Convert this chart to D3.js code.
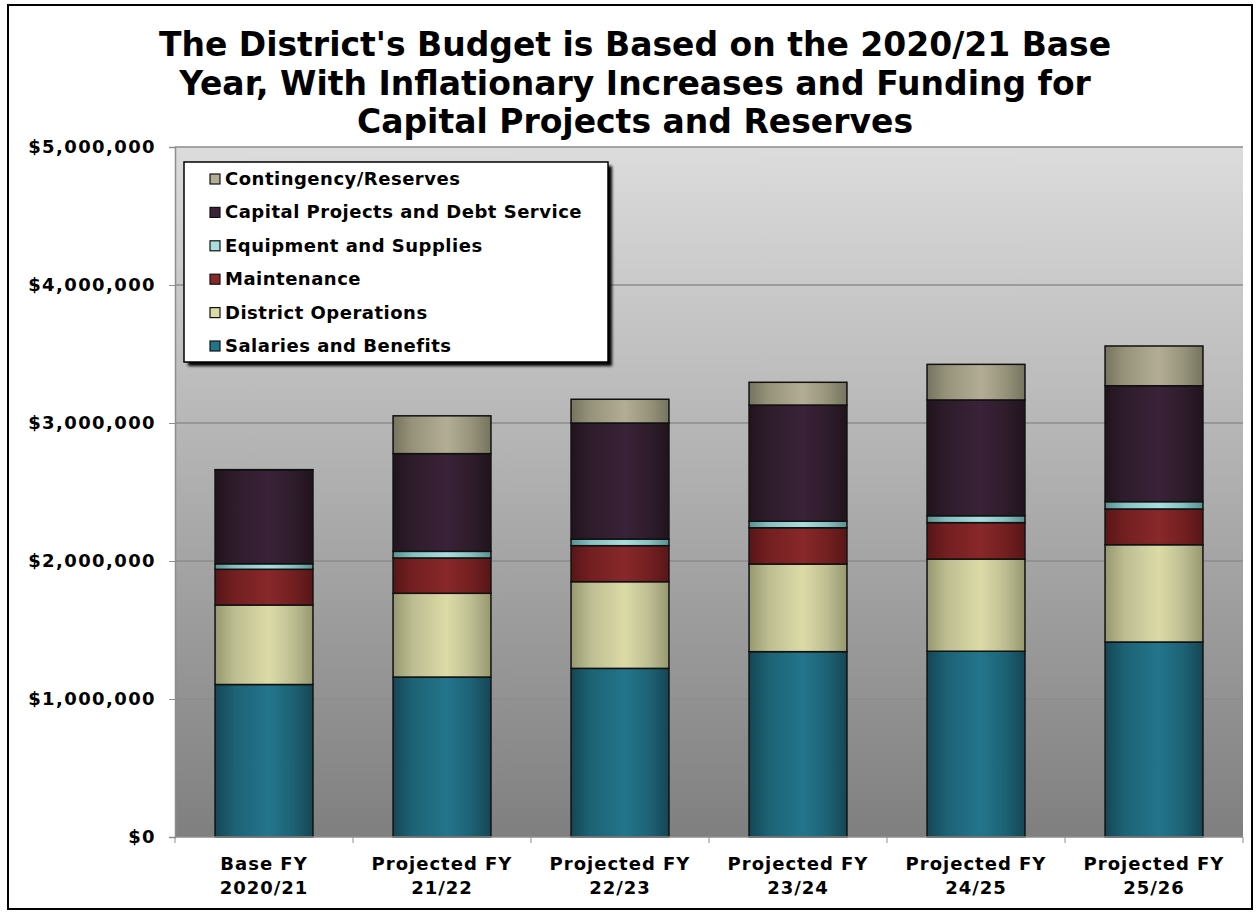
<!DOCTYPE html>
<html>
<head>
<meta charset="utf-8">
<script src="https://cdn.jsdelivr.net/npm/d3@7"></script>
<style>
  body { margin: 0; background: #fff; }
  text { font-family: "DejaVu Sans", Verdana, sans-serif; font-weight: bold; }
</style>
</head>
<body>
<div id="chart"></div>
<script>
"use strict";

// categories (two-line labels)
const categories = ["Base FY|2020/21", "Projected FY|21/22", "Projected FY|22/23",
                    "Projected FY|23/24", "Projected FY|24/25", "Projected FY|25/26"];

// series values, bottom to top
const salaries    = [1105000, 1159000, 1222000, 1343000, 1346000, 1413000];
const districtOps = [ 576000,  607000,  628000,  635000,  668000,  705000];
const maintenance = [ 259000,  256000,  261000,  263000,  264000,  259000];
const equipment   = [  40000,   48000,   48000,   47000,   50000,   53000];
const capital     = [ 679000,  708000,  841000,  842000,  839000,  840000];
const contingency = [   3000,  274000,  172000,  165000,  258000,  288000];

const seriesNames = ["Salaries and Benefits", "District Operations", "Maintenance",
                     "Equipment and Supplies", "Capital Projects and Debt Service", "Contingency/Reserves"];
const yTicks = [0, 1000000, 2000000, 3000000, 4000000, 5000000];

// colour per series: [edge, mid, light]
const colours = [
  ["#154654", "#1d6275", "#23758c"],
  ["#989870", "#bdbd92", "#dcdba7"],
  ["#581617", "#731f21", "#88282a"],
  ["#5a9090", "#86c0c0", "#a9dede"],
  ["#21141e", "#2e1c2b", "#3a2238"],
  ["#76745f", "#97937b", "#b3ad95"]
];

const msm = { width: 1259, height: 912, left: 175, right: 1243, top: 147, bottom: 837 };

const svg = d3.select("#chart").append("svg")
  .attr("width", msm.width)
  .attr("height", msm.height);

const defs = svg.append("defs");

// plot background gradient
const bg = defs.append("linearGradient").attr("id", "bg")
  .attr("x1", 0).attr("y1", 0).attr("x2", 0).attr("y2", 1);
bg.append("stop").attr("offset", "0%").attr("stop-color", "#dcdcdc");
bg.append("stop").attr("offset", "100%").attr("stop-color", "#7f7f7f");

// bar gradients (cylinder look)
colours.forEach((c, i) => {
  const g = defs.append("linearGradient").attr("id", "g" + i)
    .attr("x1", 0).attr("y1", 0).attr("x2", 1).attr("y2", 0);
  [[0, c[0]], [0.2, c[1]], [0.55, c[2]], [0.8, c[1]], [1, c[0]]].forEach(s => {
    g.append("stop").attr("offset", s[0]).attr("stop-color", s[1]);
  });
});

const shadow = defs.append("filter").attr("id", "shadow")
  .attr("x", "-5%").attr("y", "-5%").attr("width", "115%").attr("height", "115%");
shadow.append("feGaussianBlur").attr("stdDeviation", 1.5);

// outer frame
svg.append("rect")
  .attr("x", 8).attr("y", 5).attr("width", 1244).attr("height", 904)
  .attr("fill", "#fff").attr("stroke", "#000").attr("stroke-width", 2);

// title
const titleLines = ["The District's Budget is Based on the 2020/21 Base",
                    "Year, With Inflationary Increases and Funding for",
                    "Capital Projects and Reserves"];
svg.append("text")
  .attr("x", 635).attr("y", 56)
  .attr("text-anchor", "middle")
  .style("font-size", "33px")
  .selectAll("tspan").data(titleLines).enter().append("tspan")
  .attr("x", 635).attr("dy", (d, i) => i === 0 ? 0 : 38.5)
  .text(d => d);

// scales
const xScale = d3.scaleBand()
  .domain(categories)
  .range([msm.left, msm.right])
  .paddingInner(0.45)
  .paddingOuter(0.225);

const yScale = d3.scaleLinear()
  .domain([0, 5000000])
  .range([msm.bottom, msm.top]);

// plot area
svg.append("rect")
  .attr("x", msm.left).attr("y", msm.top)
  .attr("width", msm.right - msm.left).attr("height", msm.bottom - msm.top)
  .attr("fill", "url(#bg)");

// gridlines
svg.append("g").selectAll("line").data(yTicks.slice(1)).enter().append("line")
  .attr("x1", msm.left).attr("x2", msm.right)
  .attr("y1", d => yScale(d)).attr("y2", d => yScale(d))
  .attr("stroke", "#8c8c8c").attr("stroke-width", 1.5);

// y axis
const yAxis = d3.axisLeft(yScale)
  .tickValues(yTicks)
  .tickSize(6)
  .tickFormat(d => "$" + d3.format(",")(d));
const yG = svg.append("g")
  .attr("transform", "translate(" + msm.left + ",0)")
  .call(yAxis);
yG.select(".domain").attr("stroke", "#8c8c8c").attr("stroke-width", 1.5);
yG.selectAll(".tick line").attr("stroke", "#8c8c8c");
yG.selectAll(".tick text")
  .attr("x", -19)
  .attr("fill", "#000")
  .style("font-size", "18px")
  .style("letter-spacing", "1.4px")
  .style("font-family", "DejaVu Sans, Verdana, sans-serif")
  .style("font-weight", "bold");

// stacked data
const table = categories.map((c, i) => ({
  cat: c,
  s0: salaries[i], s1: districtOps[i], s2: maintenance[i],
  s3: equipment[i], s4: capital[i], s5: contingency[i]
}));
const stack = d3.stack().keys(["s0", "s1", "s2", "s3", "s4", "s5"]);
const stacked = stack(table);

const layers = svg.append("g").selectAll("g")
  .data(stacked).enter().append("g")
  .attr("fill", (d, i) => "url(#g" + i + ")");

layers.selectAll("rect")
  .data(d => d).enter().append("rect")
  .attr("x", d => xScale(d.data.cat))
  .attr("width", xScale.bandwidth())
  .attr("y", d => yScale(d[1]))
  .attr("height", d => yScale(d[0]) - yScale(d[1]))
  .attr("stroke", "#111")
  .attr("stroke-width", 1.5);

// x axis
const step = xScale.step();
const gap = (step - xScale.bandwidth()) / 2;
const xG = svg.append("g");
xG.append("line")
  .attr("x1", msm.left).attr("x2", msm.right)
  .attr("y1", msm.bottom).attr("y2", msm.bottom)
  .attr("stroke", "#8c8c8c").attr("stroke-width", 1.5);
const bounds = categories.map(c => xScale(c) - gap).concat([msm.right]);
xG.selectAll(".xt").data(bounds).enter().append("line")
  .attr("x1", d => d).attr("x2", d => d)
  .attr("y1", msm.bottom).attr("y2", msm.bottom + 6)
  .attr("stroke", "#8c8c8c");
xG.selectAll(".xl").data(categories).enter().append("text")
  .attr("text-anchor", "middle")
  .style("font-size", "18px")
  .style("letter-spacing", "1px")
  .each(function (d) {
    const cx = xScale(d) + xScale.bandwidth() / 2;
    d3.select(this).selectAll("tspan").data(d.split("|")).enter().append("tspan")
      .attr("x", cx)
      .attr("y", (t, i) => 870 + i * 24)
      .text(t => t);
  });

// legend
const lg = { x: 184, y: 162, w: 424, h: 200 };
svg.append("rect")
  .attr("x", lg.x + 4).attr("y", lg.y + 4).attr("width", lg.w).attr("height", lg.h)
  .attr("fill", "#000").attr("filter", "url(#shadow)");
svg.append("rect")
  .attr("x", lg.x).attr("y", lg.y).attr("width", lg.w).attr("height", lg.h)
  .attr("fill", "#fff").attr("stroke", "#000").attr("stroke-width", 1.5);

const legendOrder = d3.range(seriesNames.length).reverse();
const legItems = svg.append("g").selectAll("g")
  .data(legendOrder).enter().append("g")
  .attr("transform", (d, i) => "translate(" + (lg.x + 26) + "," + (lg.y + 17 + i * 33.4) + ")");
legItems.append("rect")
  .attr("x", 0).attr("y", -5).attr("width", 10).attr("height", 10)
  .attr("fill", d => colours[d][2]).attr("stroke", "#111").attr("stroke-width", 1.2);
legItems.append("text")
  .attr("x", 15).attr("y", 6)
  .style("font-size", "18px")
  .style("letter-spacing", "0.5px")
  .text(d => seriesNames[d]);
</script>
</body>
</html>
